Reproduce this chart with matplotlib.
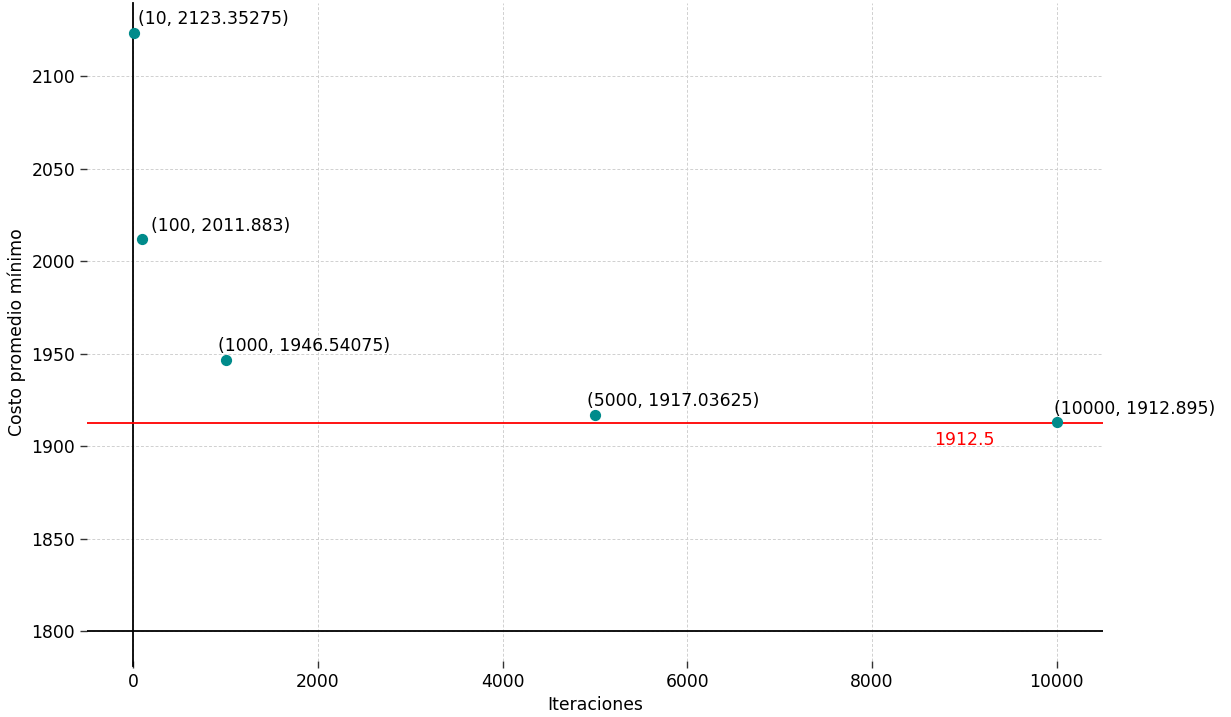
import matplotlib
matplotlib.use("Agg")
import matplotlib.pyplot as plt

plt.rcParams['font.family'] = ['DejaVu Sans']

iteraciones = [10, 100, 1000, 5000, 10000]
costos = [2123.35275, 2011.883, 1946.54075, 1917.03625, 1912.895]
etiquetas = ["(10, 2123.35275)", "(100, 2011.883)", "(1000, 1946.54075)",
             "(5000, 1917.03625)", "(10000, 1912.895)"]
offsets_px = [(4, 4.5), (9, 4.5), (-8, 4.5), (-8, 4.5), (-3, 4.5)]
referencia = 1912.5

FS = 12.4

fig = plt.figure(figsize=(12.31, 7.17), dpi=100)
ax = fig.add_axes([0.0707, 0.078, 0.8253, 0.918])

ax.grid(True, linestyle=(0, (3, 2)), color='#d0d0d0', linewidth=0.7)
ax.set_axisbelow(True)
ax.axhline(1800, color='black', linewidth=1.3, zorder=2)
ax.axvline(0, ymin=-0.008, ymax=1.0, color='black', linewidth=1.3, zorder=2,
           clip_on=False)
ax.axhline(referencia, color='red', linewidth=1.3, zorder=2)
ax.scatter(iteraciones, costos, color='#008b8b', s=50, zorder=3)

for x, y, t, (dx, dy) in zip(iteraciones, costos, etiquetas, offsets_px):
    ax.annotate(t, (x, y), xytext=(dx, dy), textcoords='offset pixels',
                fontsize=FS, ha='left', va='bottom')

ax.text(9000, 1903.3, str(referencia), color='red', fontsize=FS,
        ha='center', va='center')

for s in ax.spines.values():
    s.set_visible(False)
ax.tick_params(labelsize=FS, length=5, width=1, color='#333333')
ax.set_xticks([0, 2000, 4000, 6000, 8000, 10000])
ax.set_yticks([1800, 1850, 1900, 1950, 2000, 2050, 2100])
ax.set_xlabel("Iteraciones", fontsize=FS)
ax.set_ylabel("Costo promedio mínimo", fontsize=FS)

fig.savefig("out.png", dpi=100)
